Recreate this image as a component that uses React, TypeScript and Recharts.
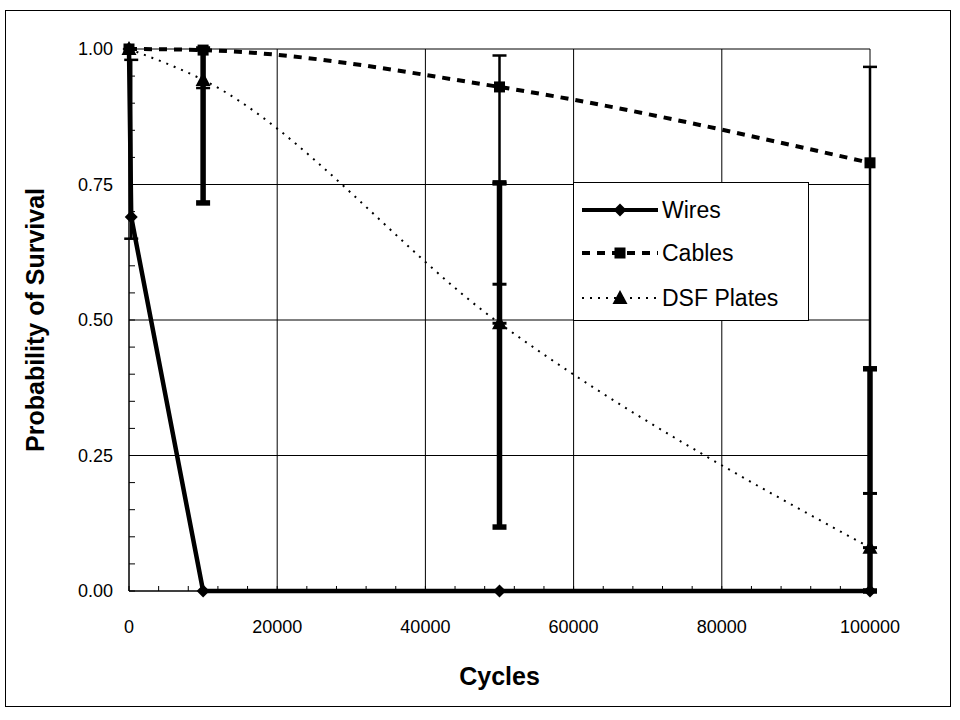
import React from "react";
import {
  LineChart, Line, XAxis, YAxis, CartesianGrid, ErrorBar, Legend, Label,
} from "recharts";

// cycles at which each series was measured
const WIRE_CYCLES = [0, 300, 10000, 50000, 100000];
const CYCLES = [0, 10000, 50000, 100000];

// probability of survival
const WIRES = [1.0, 0.69, 0, 0, 0];
const CABLES = [1.0, 0.998, 0.93, 0.79];
const PLATES = [1.0, 0.943, 0.494, 0.08];

// error bars as [minus, plus]
const WIRES_ERR = [null, [0.04, 0.29], null, null, null];
const CABLES_ERR = [null, [0.07, 0], [0.177, 0.058], [0.38, 0.177]];
const PLATES_ERR = [null, [0.227, 0.057], [0.376, 0.259], [0.08, 0.33]];
const PLATES_ERR_MID = [null, null, [0, 0.072], [0, 0.1]];

const X_MAJOR = [0, 20000, 40000, 60000, 80000, 100000];
const Y_MAJOR = [0, 0.25, 0.5, 0.75, 1.0];
const X_TICKS = Array.from({ length: 26 }, (_, i) => i * 4000);
const Y_TICKS = Array.from({ length: 21 }, (_, i) => (i * 5) / 100);

const FONT = "'Liberation Sans', Arial, sans-serif";

const wiresData = WIRE_CYCLES.map((x, i) => ({ x, y: WIRES[i], err: WIRES_ERR[i] }));
const cablesData = CYCLES.map((x, i) => ({ x, y: CABLES[i], err: CABLES_ERR[i] }));
const platesData = CYCLES.map((x, i) => ({ x, y: PLATES[i], err: PLATES_ERR[i], err2: PLATES_ERR_MID[i] }));

const isMajor = (v: number, list: number[]) => list.some((m) => Math.abs(m - v) < 1e-9);

const Diamond = ({ cx, cy, size = 6.5 }: any) => (
  <polygon points={`${cx},${cy - size} ${cx + size},${cy} ${cx},${cy + size} ${cx - size},${cy}`} fill="#000" />
);
const Square = ({ cx, cy, size = 11 }: any) => (
  <rect x={cx - size / 2} y={cy - size / 2} width={size} height={size} fill="#000" />
);
const Triangle = ({ cx, cy }: any) => (
  <polygon points={`${cx},${cy - 8} ${cx + 7.5},${cy + 6} ${cx - 7.5},${cy + 6}`} fill="#000" />
);

const YTick = ({ x, y, payload }: any) => {
  const axisX = x + 16;
  return (
    <g>
      <line x1={axisX} x2={axisX + 6} y1={y} y2={y} stroke="#000" />
      {isMajor(payload.value, Y_MAJOR) && (
        <text x={x} y={y} dy="0.36em" textAnchor="end" fontSize={18} fontFamily={FONT} fill="#000">
          {payload.value.toFixed(2)}
        </text>
      )}
    </g>
  );
};

const XTick = ({ x, y, payload }: any) => {
  const axisY = y - 29;
  return (
    <g>
      <line x1={x} x2={x} y1={axisY} y2={axisY - 5} stroke="#000" />
      {isMajor(payload.value, X_MAJOR) && (
        <text x={x} y={y} dy="0.71em" textAnchor="middle" fontSize={18} fontFamily={FONT} fill="#000">
          {payload.value}
        </text>
      )}
    </g>
  );
};

const LegendBox = () => {
  const rows = [
    { name: "Wires", y: 28, dash: undefined, w: 4, Mark: Diamond },
    { name: "Cables", y: 71, dash: "8 7", w: 4, Mark: Square },
    { name: "DSF Plates", y: 116, dash: "2 6", w: 2, Mark: Triangle },
  ];
  return (
    <svg width={236} height={139} style={{ display: "block" }}>
      <rect x={0.5} y={0.5} width={235} height={138} fill="#fff" stroke="#000" />
      {rows.map((r) => (
        <g key={r.name}>
          <line x1={9} x2={85} y1={r.y} y2={r.y} stroke="#000" strokeWidth={r.w} strokeDasharray={r.dash} />
          <r.Mark cx={47} cy={r.y} />
          <text x={89} y={r.y} dy="0.36em" fontSize={23} fontFamily={FONT} fill="#000">{r.name}</text>
        </g>
      ))}
    </svg>
  );
};

export default function App() {
  return (
    <div style={{ position: "absolute", left: 0, top: 0, width: 960, height: 720, background: "#fff" }}>
      <div style={{ position: "absolute", left: 5, top: 10, width: 944, height: 695, border: "1px solid #000" }} />
      <LineChart
        width={960}
        height={720}
        margin={{ top: 49, right: 90, bottom: 19, left: 10 }}
        style={{ position: "absolute", left: 0, top: 0, fontFamily: FONT }}
      >
        <CartesianGrid
          stroke="#000"
          strokeWidth={1}
          horizontalValues={Y_MAJOR}
          verticalValues={X_MAJOR}
        />
        <XAxis
          type="number"
          dataKey="x"
          domain={[0, 100000]}
          ticks={X_TICKS}
          interval={0}
          tickSize={0}
          tickMargin={29}
          tick={<XTick />}
          axisLine={{ stroke: "#000" }}
          tickLine={false}
          height={110}
        >
          <Label
            content={({ viewBox }: any) => (
              <text
                x={viewBox.x + viewBox.width / 2}
                y={viewBox.y + 85}
                dy="0.36em"
                textAnchor="middle"
                fontSize={25}
                fontWeight="bold"
                fontFamily={FONT}
                fill="#000"
              >
                Cycles
              </text>
            )}
          />
        </XAxis>
        <YAxis
          type="number"
          domain={[0, 1]}
          ticks={Y_TICKS}
          interval={0}
          tickSize={0}
          tickMargin={16}
          tick={<YTick />}
          axisLine={{ stroke: "#000" }}
          tickLine={false}
          width={119}
        >
          <Label
            content={({ viewBox }: any) => {
              const cx = viewBox.x + 25;
              const cy = viewBox.y + viewBox.height / 2;
              return (
                <text
                  x={cx}
                  y={cy}
                  dy="0.36em"
                  transform={`rotate(-90 ${cx} ${cy})`}
                  textAnchor="middle"
                  fontSize={25}
                  fontWeight="bold"
                  fontFamily={FONT}
                  fill="#000"
                >
                  Probability of Survival
                </text>
              );
            }}
          />
        </YAxis>
        <Legend
          layout="vertical"
          align="center"
          verticalAlign="middle"
          wrapperStyle={{ left: 573, top: 182, width: 236, height: 139 }}
          content={() => <LegendBox />}
        />
        <Line
          data={cablesData}
          dataKey="y"
          name="Cables"
          type="monotone"
          stroke="#000"
          strokeWidth={4}
          strokeDasharray="8 7"
          dot={false}
          isAnimationActive={false}
        >
          <ErrorBar dataKey="err" direction="y" width={7} strokeWidth={2.5} stroke="#000" isAnimationActive={false} />
        </Line>
        <Line
          data={platesData}
          dataKey="y"
          name="DSF Plates"
          type="monotone"
          stroke="#000"
          strokeWidth={2}
          strokeDasharray="2 6"
          dot={false}
          isAnimationActive={false}
        >
          <ErrorBar dataKey="err" direction="y" width={7} strokeWidth={5.5} stroke="#000" isAnimationActive={false} />
          <ErrorBar dataKey="err2" direction="y" width={7} strokeWidth={3} stroke="#000" isAnimationActive={false} />
        </Line>
        <Line
          data={wiresData}
          dataKey="y"
          name="Wires"
          type="linear"
          stroke="#000"
          strokeWidth={4.5}
          dot={false}
          isAnimationActive={false}
        >
          <ErrorBar dataKey="err" direction="y" width={7} strokeWidth={2.5} stroke="#000" isAnimationActive={false} />
        </Line>
        {/* markers drawn last so they sit on top of the error bars */}
        <Line
          data={platesData}
          dataKey="y"
          name="DSF Plates markers"
          stroke="none"
          legendType="none"
          dot={(p: any) => <Triangle key={`p-${p.index}`} cx={p.cx} cy={p.cy} />}
          isAnimationActive={false}
        />
        <Line
          data={cablesData}
          dataKey="y"
          name="Cables markers"
          stroke="none"
          legendType="none"
          dot={(p: any) => <Square key={`c-${p.index}`} cx={p.cx} cy={p.cy} />}
          isAnimationActive={false}
        />
        <Line
          data={wiresData}
          dataKey="y"
          name="Wires markers"
          stroke="none"
          legendType="none"
          dot={(p: any) => <Diamond key={`w-${p.index}`} cx={p.cx} cy={p.cy} />}
          isAnimationActive={false}
        />
      </LineChart>
    </div>
  );
}
